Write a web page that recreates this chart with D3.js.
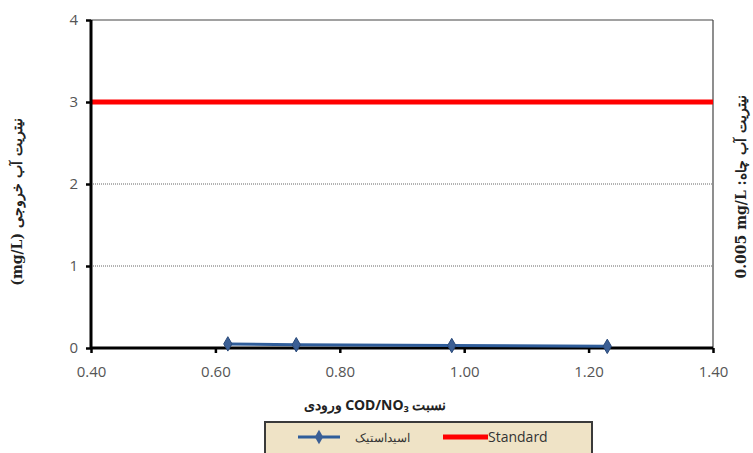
<!DOCTYPE html>
<html><head><meta charset="utf-8">
<script src="https://cdn.jsdelivr.net/npm/d3@7"></script>
<style>body{margin:0;background:#fff;}svg{display:block;}</style>
</head><body>
<svg id="c" width="753" height="453"></svg>
<script>
const xValues = [0.62, 0.73, 0.98, 1.23];
const acetateValues = [0.05, 0.04, 0.03, 0.02];
const standardValue = 3;
const xTicks = [0.4, 0.6, 0.8, 1.0, 1.2, 1.4];
const yTicks = [0, 1, 2, 3, 4];
const seriesNames = ["اسیداستیک", "Standard"];

const svg = d3.select("#c");
const L = 91, R = 713, T = 20, B = 348;
const x = d3.scaleLinear().domain([0.4, 1.4]).range([L, R]);
const y = d3.scaleLinear().domain([0, 4]).range([B, T]);

// gridlines
svg.append("g").selectAll("line").data(yTicks.filter(d => d > 0 && d < 4)).join("line")
  .attr("x1", L).attr("x2", R).attr("y1", d => y(d)).attr("y2", d => y(d))
  .attr("stroke", "#666").attr("stroke-width", 1).attr("stroke-dasharray", "1,1");

// frame top/right
svg.append("line").attr("x1", L).attr("x2", R).attr("y1", T).attr("y2", T).attr("stroke", "#444").attr("stroke-width", 1.2);
svg.append("line").attr("x1", R).attr("x2", R).attr("y1", T).attr("y2", B).attr("stroke", "#444").attr("stroke-width", 1.2);

// standard line
svg.append("line").attr("x1", L).attr("x2", R).attr("y1", y(standardValue)).attr("y2", y(standardValue))
  .attr("stroke", "#ff0000").attr("stroke-width", 5);

// axes
const fontFam = "'Open Sans', 'Liberation Sans', sans-serif";
const yAxis = svg.append("g").attr("transform", `translate(${L},0)`)
  .call(d3.axisLeft(y).tickValues(yTicks).tickFormat(d3.format("d")).tickSize(5).tickPadding(8));
const xAxis = svg.append("g").attr("transform", `translate(0,${B})`)
  .call(d3.axisBottom(x).tickValues(xTicks).tickFormat(d3.format(".2f")).tickSize(5).tickPadding(13));
[yAxis, xAxis].forEach(g => {
  g.select(".domain").attr("stroke", "#000").attr("stroke-width", 3);
  g.selectAll(".tick line").attr("stroke", "#000").attr("stroke-width", 2.5);
  g.selectAll("text").attr("font-family", fontFam).attr("font-size", 15).attr("fill", "#555");
});
yAxis.select(".domain").attr("d", `M0,${B}V${T}`);
xAxis.select(".domain").attr("d", `M${L},0H${R}`);

// series line
const line = d3.line().x((d, i) => x(xValues[i])).y(d => y(d));
svg.append("path").datum(acetateValues).attr("d", line).attr("fill", "none")
  .attr("stroke", "#2f5d9a").attr("stroke-width", 3);
const diamond = d3.symbol().type(d3.symbolDiamond).size(60);
svg.append("g").selectAll("path").data(acetateValues).join("path")
  .attr("d", diamond).attr("transform", (d, i) => `translate(${x(xValues[i])},${y(d)})`)
  .attr("fill", "#3b5f95").attr("stroke", "#2a4a7a").attr("stroke-width", 1);

// axis titles
svg.append("text").attr("transform", `translate(22,202) rotate(-90)`)
  .attr("text-anchor", "middle").attr("font-family", "'DejaVu Serif', 'Liberation Serif', serif")
  .attr("font-weight", "bold").attr("font-size", 14).attr("fill", "#222").attr("direction", "rtl")
  .text("نیتریت آب خروجی (mg/L)");
svg.append("text").attr("transform", `translate(746,187) rotate(-90)`)
  .attr("text-anchor", "middle").attr("font-family", "'DejaVu Serif', 'Liberation Serif', serif")
  .attr("font-weight", "bold").attr("font-size", 14).attr("fill", "#222").attr("direction", "rtl")
  .text("نیتریت آب چاه: \u20660.005 mg/L\u2069");
svg.append("text").attr("x", 375).attr("y", 410).attr("text-anchor", "middle")
  .attr("font-family", "'Noto Sans', 'Open Sans', sans-serif").attr("font-weight", "bold")
  .attr("font-size", 14).attr("fill", "#222").attr("direction", "rtl")
  .text("نسبت COD/NO₃ ورودی");

// legend
const lg = svg.append("g");
lg.append("rect").attr("x", 265).attr("y", 422).attr("width", 327).attr("height", 40)
  .attr("fill", "#efe3c6").attr("stroke", "#3a3a3a").attr("stroke-width", 2);
lg.append("line").attr("x1", 298).attr("x2", 340).attr("y1", 437).attr("y2", 437)
  .attr("stroke", "#2f5d9a").attr("stroke-width", 3);
lg.append("path").attr("d", diamond).attr("transform", "translate(319,437)").attr("fill", "#3b5f95");
lg.append("text").attr("x", 410).attr("y", 442).attr("text-anchor", "end")
  .attr("font-family", "'Noto Sans', sans-serif").attr("font-size", 12).attr("fill", "#333").attr("direction", "ltr")
  .text(seriesNames[0]);
lg.append("line").attr("x1", 443).attr("x2", 488).attr("y1", 437).attr("y2", 437)
  .attr("stroke", "#ff0000").attr("stroke-width", 5);
lg.append("text").attr("x", 488).attr("y", 442).attr("text-anchor", "start")
  .attr("font-family", "'Open Sans', sans-serif").attr("font-size", 14).attr("fill", "#333")
  .text(seriesNames[1]);
</script>
</body></html>
